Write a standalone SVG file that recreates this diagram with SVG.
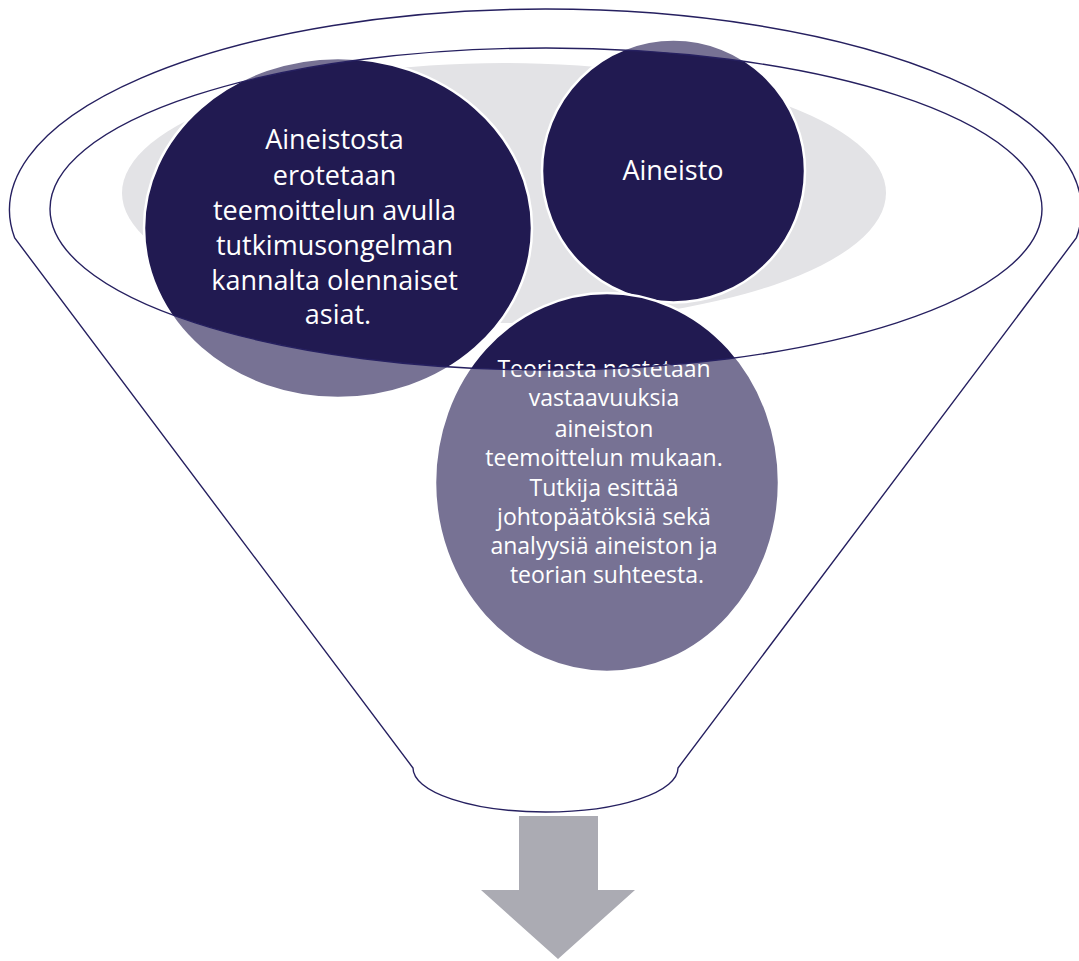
<svg xmlns="http://www.w3.org/2000/svg" width="1079" height="961" viewBox="0 0 1079 961">
  <style>
    .circ { fill: #211A51; stroke: #FFFFFF; stroke-width: 2.5; }
    .lbl { fill: #FFFFFF; font-family: "Open Sans", "Liberation Sans", sans-serif; text-anchor: middle; }
    .big { font-size: 27px; }
    .small { font-size: 23px; }
  </style>
  <rect width="1079" height="961" fill="#FFFFFF"/>
  <g id="background">
    <ellipse cx="504" cy="193" rx="382" ry="130" fill="#E3E3E6"/>
  </g>
  <g id="node-left">
    <ellipse class="circ" cx="338" cy="228" rx="194" ry="170"/>
    <text class="lbl big" x="338">
      <tspan x="338" y="149">Aineistosta</tspan>
      <tspan x="338" y="185">erotetaan</tspan>
      <tspan x="338" y="220">teemoittelun avulla</tspan>
      <tspan x="338" y="255">tutkimusongelman</tspan>
      <tspan x="338" y="290">kannalta olennaiset</tspan>
      <tspan x="338" y="324">asiat.</tspan>
    </text>
  </g>
  <g id="node-aineisto">
    <circle class="circ" cx="673.5" cy="171" r="131.5"/>
    <text class="lbl big" x="673" y="180">Aineisto</text>
  </g>
  <g id="node-bottom">
    <ellipse class="circ" cx="607" cy="482.5" rx="172" ry="189.5"/>
    <text class="lbl small">
      <tspan x="607" y="377">Teoriasta nostetaan</tspan>
      <tspan x="607" y="406">vastaavuuksia</tspan>
      <tspan x="607" y="436.5">aineiston</tspan>
      <tspan x="607" y="466">teemoittelun mukaan.</tspan>
      <tspan x="607" y="495.5">Tutkija esittää</tspan>
      <tspan x="607" y="525">johtopäätöksiä sekä</tspan>
      <tspan x="607" y="554">analyysiä aineiston ja</tspan>
      <tspan x="607" y="583">teorian suhteesta.</tspan>
    </text>
  </g>
  <g id="funnel">
    <path d="M 14.7,238 A 536 201 0 1 1 1076.3,238 L 678,768 A 132.5 44 0 0 1 413,768 Z M 50,209 A 496 161 0 1 1 1042,209 A 496 161 0 1 1 50,209 Z" fill="#FFFFFF" fill-opacity="0.39" fill-rule="evenodd" stroke="#262060" stroke-width="1.4"/>
  </g>
  <g id="connectors">
    <polygon points="519,816 598,816 598,890 635,890 558,959 481,890 519,890" fill="#ABABB3"/>
  </g>
</svg>
